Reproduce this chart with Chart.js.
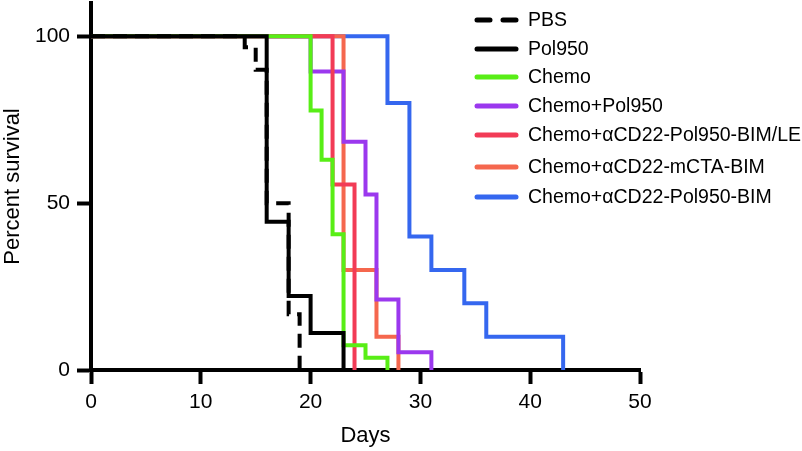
<!DOCTYPE html>
<html>
<head>
<meta charset="utf-8">
<script src="https://cdn.jsdelivr.net/npm/chart.js@4"></script>
<style>
  body { margin: 0; background: #fff; }
</style>
</head>
<body>
<canvas id="survivalChart" width="802" height="451"></canvas>
<script>
// survival curves: day of each step and percent surviving after it
const groupNames = ['PBS', 'Pol950', 'Chemo', 'Chemo+Pol950', 'Chemo+\u03b1CD22-Pol950-BIM/LE', 'Chemo+\u03b1CD22-mCTA-BIM', 'Chemo+\u03b1CD22-Pol950-BIM'];

const pbsDays = [0, 14, 15, 16, 18, 19];
const pbsSurv = [100, 96.7, 90, 50, 16.7, 0];

const pol950Days = [0, 16, 18, 20, 23];
const pol950Surv = [100, 44.4, 22.2, 11.1, 0];

const chemoDays = [0, 20, 21, 22, 23, 25, 27];
const chemoSurv = [100, 77.8, 63, 40.7, 7.4, 3.7, 0];

const chemoPolDays = [0, 20, 23, 25, 26, 28, 31];
const chemoPolSurv = [100, 89.5, 68.4, 52.6, 21.1, 5.3, 0];

const bimLeDays = [0, 22, 24];
const bimLeSurv = [100, 55.6, 0];

const mctaDays = [0, 23, 26, 28];
const mctaSurv = [100, 30, 10, 0];

const bimDays = [0, 27, 29, 31, 34, 36, 43];
const bimSurv = [100, 80, 40, 30, 20, 10, 0];

const xTicks = [0, 10, 20, 30, 40, 50];
const yTicks = [0, 50, 100];

Chart.defaults.font.family = "'Liberation Sans', Arial, Helvetica, sans-serif";
Chart.defaults.color = '#000';

function toPoints(days, surv) {
    return days.map((d, i) => ({ x: d, y: surv[i] }));
}

function makeSet(i, days, surv, color, order, dash) {
    return {
        label: groupNames[i],
        data: toPoints(days, surv),
        borderColor: color,
        backgroundColor: color,
        borderWidth: 4,
        borderDash: dash || [],
        borderCapStyle: dash ? 'butt' : 'round',
        borderJoinStyle: 'miter',
        stepped: 'before',
        pointRadius: 0,
        fill: false,
        order: order
    };
}

// hand-placed legend on the right, like the figure
const sideLegend = {
    id: 'sideLegend',
    afterDraw(chart) {
        const ctx = chart.ctx;
        const rows = [20, 49, 77, 106, 135, 167, 197];
        ctx.save();
        ctx.font = "19.5px 'Liberation Sans', Arial, sans-serif";
        ctx.textBaseline = 'middle';
        ctx.textAlign = 'left';
        chart.data.datasets.forEach((ds, i) => {
            const y = rows[i];
            ctx.strokeStyle = ds.borderColor;
            ctx.lineWidth = 5;
            ctx.lineCap = 'round';
            ctx.beginPath();
            if (ds.borderDash.length) {
                ctx.moveTo(477, y); ctx.lineTo(490, y);
                ctx.moveTo(503, y); ctx.lineTo(516, y);
            } else {
                ctx.moveTo(477, y); ctx.lineTo(516, y);
            }
            ctx.stroke();
            ctx.fillStyle = '#000';
            ctx.fillText(ds.label, 528, y + 1);
        });
        ctx.restore();
    }
};

const ctx = document.getElementById('survivalChart').getContext('2d');

new Chart(ctx, {
    type: 'line',
    data: {
        datasets: [
            makeSet(0, pbsDays, pbsSurv, '#000000', 0, [14, 8]),
            makeSet(1, pol950Days, pol950Surv, '#000000', 1),
            makeSet(2, chemoDays, chemoSurv, '#58ee16', 2),
            makeSet(3, chemoPolDays, chemoPolSurv, '#9b38ee', 4),
            makeSet(4, bimLeDays, bimLeSurv, '#f23b56', 3),
            makeSet(5, mctaDays, mctaSurv, '#f5674e', 5),
            makeSet(6, bimDays, bimSurv, '#3567ef', 6)
        ]
    },
    options: {
        responsive: false,
        animation: false,
        layout: { padding: { top: 3, right: 162, left: 0, bottom: 0 } },
        plugins: {
            legend: { display: false },
            tooltip: { enabled: false }
        },
        scales: {
            x: {
                type: 'linear',
                min: 0,
                max: 50,
                afterFit: s => { s.height = 81; s.paddingLeft = 0; s.paddingRight = 0; },
                afterBuildTicks: s => { s.ticks = xTicks.map(v => ({ value: v })); },
                grid: {
                    drawOnChartArea: false,
                    tickLength: 14,
                    tickWidth: 4,
                    tickColor: '#000'
                },
                border: { display: true, color: '#000', width: 4 },
                ticks: { font: { size: 21 }, padding: 6, color: '#000' },
                title: {
                    display: true,
                    text: 'Days',
                    font: { size: 22 },
                    color: '#000',
                    padding: { top: 0, bottom: 2 }
                }
            },
            y: {
                type: 'linear',
                min: 0,
                max: 110,
                afterFit: s => { s.width = 91; s.paddingTop = 0; s.paddingBottom = 0; },
                afterBuildTicks: s => { s.ticks = yTicks.map(v => ({ value: v })); },
                grid: {
                    drawOnChartArea: false,
                    tickLength: 14,
                    tickWidth: 4,
                    tickColor: '#000'
                },
                border: { display: true, color: '#000', width: 4 },
                ticks: { font: { size: 21 }, padding: 7, color: '#000' },
                title: {
                    display: true,
                    text: 'Percent survival',
                    font: { size: 22 },
                    color: '#000',
                    padding: { top: 0, bottom: 0 }
                }
            }
        }
    },
    plugins: [sideLegend]
});
</script>
</body>
</html>
